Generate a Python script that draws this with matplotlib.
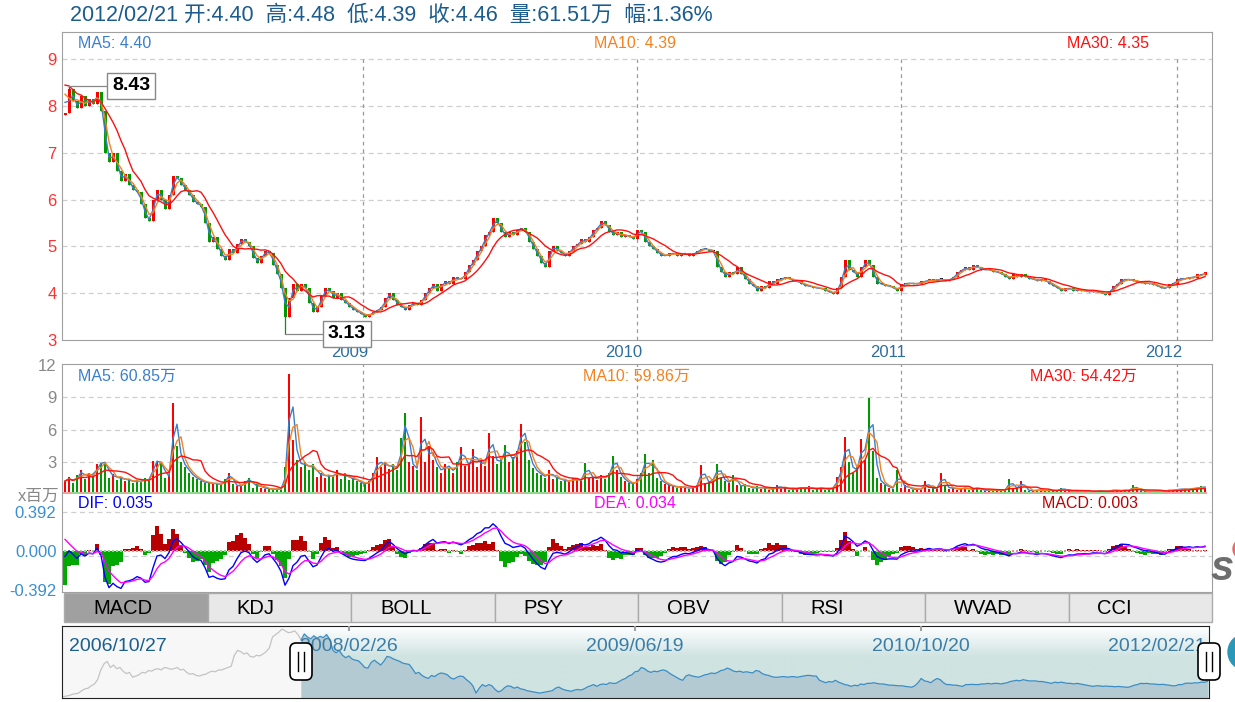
import numpy as np
import pandas as pd
import matplotlib
matplotlib.use('Agg')
import matplotlib.pyplot as plt
import matplotlib.transforms as mtrans
from matplotlib.patches import Rectangle, FancyBboxPatch, Circle

plt.rcParams['font.family'] = ['Liberation Sans', 'Noto Sans CJK SC', 'DejaVu Sans']

# ---- 数据（从图上读出的近似值，约每 3~4 个交易日取一个点） ----
# 2006/10 - 2007/12，只在下方缩略图里出现
early_close = [3.20, 3.25, 3.30, 3.40, 3.45, 3.50, 3.70, 3.85, 3.90, 4.10,
               4.25, 4.60, 5.40, 5.90, 6.10, 5.60, 5.80, 5.50, 5.60, 5.30,
               5.10, 5.20, 4.80, 4.90, 5.00, 5.20, 5.15, 5.35, 5.30, 5.45,
               5.50, 5.40, 5.60, 5.55, 5.45, 5.50, 5.60, 5.40, 5.45, 5.20,
               5.05, 5.10, 4.95, 4.90, 5.00, 5.05, 5.20, 5.30, 5.25, 5.40,
               5.40, 5.50, 5.60, 5.70, 6.60, 7.00, 6.90, 6.70, 6.80, 6.50,
               6.45, 6.60, 6.55, 6.70, 6.90, 7.20, 8.10, 8.30, 8.50, 8.75,
               8.60, 8.45, 8.50, 8.60, 8.30]

# 主图收盘价 2007/12 - 2012/02/21
close = [7.85, 8.35, 8.10, 7.95, 8.20, 8.00, 8.15, 8.05, 8.30, 7.90,
         7.00, 6.80, 7.00, 6.60, 6.40, 6.55, 6.30, 6.20, 6.15, 5.90,
         5.60, 5.55, 6.00, 6.20, 6.00, 5.80, 6.10, 6.50, 6.45, 6.30,
         6.20, 6.10, 5.95, 5.90, 5.85, 5.50, 5.10, 5.20, 4.95, 4.80,
         4.70, 4.95, 4.85, 5.05, 5.15, 5.10, 5.00, 4.75, 4.65, 4.80,
         4.90, 4.85, 4.60, 4.40, 4.10, 3.50, 3.90, 4.20, 4.05, 4.20,
         4.10, 3.80, 3.60, 3.70, 3.95, 4.10, 4.05, 3.90, 4.00, 3.85,
         3.80, 3.70, 3.65, 3.60, 3.55, 3.50, 3.55, 3.60, 3.65, 3.70,
         3.90, 4.00, 3.85, 3.75, 3.70, 3.65, 3.75, 3.80, 3.75, 3.85,
         4.00, 4.10, 4.20, 4.05, 4.20, 4.25, 4.20, 4.35, 4.30, 4.30,
         4.45, 4.60, 4.70, 4.90, 5.00, 5.25, 5.30, 5.60, 5.50, 5.30,
         5.20, 5.30, 5.25, 5.35, 5.40, 5.30, 5.10, 4.95, 4.80, 4.65,
         4.55, 4.90, 5.00, 4.90, 4.85, 4.80, 4.90, 5.00, 5.05, 5.15,
         5.10, 5.20, 5.35, 5.40, 5.55, 5.45, 5.30, 5.25, 5.30, 5.20,
         5.25, 5.20, 5.15, 5.35, 5.30, 5.10, 5.00, 4.95, 4.85, 4.80,
         4.80, 4.85, 4.85, 4.80, 4.85, 4.85, 4.80, 4.85, 4.90, 4.95,
         4.95, 4.90, 4.90, 4.55, 4.45, 4.35, 4.45, 4.40, 4.55, 4.40,
         4.30, 4.20, 4.15, 4.05, 4.15, 4.10, 4.25, 4.20, 4.30, 4.30,
         4.35, 4.30, 4.25, 4.25, 4.20, 4.15, 4.15, 4.12, 4.10, 4.10,
         4.05, 4.02, 3.98, 4.10, 4.35, 4.70, 4.50, 4.45, 4.35, 4.55,
         4.70, 4.60, 4.35, 4.20, 4.20, 4.15, 4.15, 4.10, 4.05, 4.20,
         4.20, 4.22, 4.20, 4.20, 4.25, 4.25, 4.30, 4.25, 4.30, 4.30,
         4.25, 4.30, 4.35, 4.45, 4.50, 4.55, 4.50, 4.60, 4.55, 4.50,
         4.50, 4.50, 4.45, 4.45, 4.40, 4.35, 4.30, 4.40, 4.35, 4.40,
         4.35, 4.30, 4.30, 4.25, 4.30, 4.25, 4.20, 4.15, 4.10, 4.05,
         4.10, 4.10, 4.05, 4.08, 4.05, 4.05, 4.02, 4.05, 4.02, 4.00,
         3.97, 4.05, 4.15, 4.20, 4.30, 4.28, 4.30, 4.25, 4.25, 4.22,
         4.20, 4.22, 4.18, 4.15, 4.10, 4.10, 4.20, 4.20, 4.30, 4.32,
         4.30, 4.35, 4.33, 4.40, 4.38, 4.46]

# 成交量，单位：百万股
volume = [1.2, 1.6, 1.0, 1.8, 2.2, 1.4, 2.0, 1.7, 2.8, 2.9,
          3.0, 1.5, 1.9, 1.3, 1.6, 1.2, 1.4, 1.0, 1.3, 1.1,
          1.5, 1.2, 3.1, 3.0, 2.9, 1.5, 1.8, 8.5, 4.5, 3.0,
          2.5, 2.0, 1.6, 1.4, 1.2, 1.0, 1.1, 0.9, 1.0, 0.8,
          1.4, 2.0, 0.9, 0.7, 0.8, 1.2, 1.5, 0.6, 0.9, 0.6,
          0.5, 0.5, 0.4, 0.5, 0.4, 2.5, 11.2, 5.0, 3.2, 2.5,
          3.0, 2.2, 2.8, 1.6, 2.0, 1.5, 1.8, 1.6, 2.2, 1.4,
          2.0, 1.3, 1.5, 1.2, 1.0, 0.9, 1.2, 2.0, 3.4, 2.5,
          3.0, 2.3, 2.8, 2.2, 5.2, 7.5, 3.0, 2.6, 2.2, 7.2,
          3.0, 4.5, 3.2, 2.5, 2.0, 2.8, 2.4, 2.0, 3.0, 4.4,
          2.6, 2.8, 4.2, 2.5, 3.2, 2.6, 5.7, 3.5, 2.8, 3.3,
          4.6, 3.0, 3.4, 4.0, 6.5, 4.8, 3.2, 2.4, 2.0, 1.8,
          1.5, 2.2, 1.4, 1.6, 1.2, 1.3, 1.1, 1.5, 1.3, 1.2,
          2.9, 1.5, 1.6, 1.3, 1.8, 1.4, 2.0, 3.5, 2.2, 1.6,
          1.2, 1.0, 0.9, 1.4, 2.0, 3.7, 2.0, 3.2, 1.5, 1.2,
          0.9, 0.8, 0.7, 0.6, 0.7, 0.6, 0.5, 0.7, 0.8, 2.7,
          1.0, 1.2, 1.4, 2.8, 1.5, 1.2, 1.0, 1.8, 0.8, 0.7,
          0.9, 0.6, 0.5, 0.7, 0.5, 0.6, 0.4, 0.5, 0.8, 0.5,
          0.6, 0.4, 0.5, 0.5, 0.6, 0.5, 0.7, 0.4, 0.5, 0.6,
          0.4, 0.5, 0.6, 1.6, 2.5, 5.3, 3.0, 2.0, 2.5, 5.1,
          3.2, 8.9, 4.0, 1.5, 1.0, 0.8, 0.6, 0.5, 2.2, 0.6,
          0.8, 0.5, 0.4, 0.5, 0.4, 1.2, 0.5, 0.6, 0.5, 2.0,
          0.7, 0.5, 0.6, 0.4, 0.5, 0.6, 0.4, 0.5, 0.6, 0.4,
          0.3, 0.4, 0.3, 0.4, 0.3, 0.4, 1.4, 0.5, 0.6, 1.2,
          0.4, 0.3, 0.3, 0.4, 0.3, 0.3, 0.4, 0.3, 0.3, 0.6,
          0.3, 0.3, 0.2, 0.3, 0.3, 0.2, 0.3, 0.2, 0.3, 0.3,
          0.2, 0.3, 0.4, 0.3, 0.3, 0.4, 0.3, 0.8, 0.4, 0.3,
          0.3, 0.2, 0.3, 0.3, 0.2, 0.3, 0.4, 0.3, 0.5, 0.4,
          0.5, 0.4, 0.6, 0.5, 0.7, 0.6]

first_open = 7.80
peak_idx, peak_high = 1, 8.43
trough_idx, trough_low = 55, 3.13

year_labels = ['2009', '2010', '2011', '2012']
year_idx = [74.5, 143, 209, 278]

header = '2012/02/21 开:4.40  高:4.48  低:4.39  收:4.46  量:61.51万  幅:1.36%'
price_ma_text = ['MA5: 4.40', 'MA10: 4.39', 'MA30: 4.35']
vol_ma_text = ['MA5: 60.85万', 'MA10: 59.86万', 'MA30: 54.42万']
macd_text = ['DIF: 0.035', 'DEA: 0.034', 'MACD: 0.003']
tab_names = ['MACD', 'KDJ', 'BOLL', 'PSY', 'OBV', 'RSI', 'WVAD', 'CCI']
nav_dates = ['2006/10/27', '2008/02/26', '2009/06/19', '2010/10/20', '2012/02/21']

# ---- 计算 ----
n = len(close)
idx = np.arange(n)
c = np.array(close)
o = np.r_[first_open, c[:-1]]
body_lo = np.minimum(o, c)
body_hi = np.maximum(o, c)
lo = body_lo.copy()
hi = body_hi.copy()
hi[peak_idx] = peak_high
lo[trough_idx] = trough_low
candle_col = np.where(c > o, '#ff0000', np.where(c < o, '#009a00', '#000000'))
vol_col = np.where(c >= o, '#ff0000', '#009a00')
vol_light = np.where(c >= o, '#f4a0a0', '#90d890')

full = pd.Series(early_close + close)
ne = len(early_close)
ma_win = [2, 3, 8]          # 5/10/30 日线按取样间隔换算
ma_col = ['#3a7fcf', '#f58220', '#ff1010']
price_ma = [full.rolling(w, min_periods=1).mean().values[ne:] for w in ma_win]
vs = pd.Series(volume)
vol_ma = [vs.rolling(w, min_periods=1).mean().values for w in ma_win]

ema_f = full.ewm(span=3.3, adjust=False).mean()
ema_s = full.ewm(span=7.2, adjust=False).mean()
dif = (ema_f - ema_s)
dea = dif.ewm(span=4.5, adjust=False).mean()
hist = (2 * (dif - dea)).values[ne:]
dif = dif.values[ne:]
dea = dea.values[ne:]

# ---- 画布 ----
W, H = 1235, 702
fig = plt.figure(figsize=(W / 100, H / 100), dpi=100)
fig.patch.set_facecolor('white')


def px_axes(x0, y0, x1, y1, **kw):
    return fig.add_axes([x0 / W, 1 - y1 / H, (x1 - x0) / W, (y1 - y0) / H], **kw)


XL = (-0.75, 286.75)
grid_kw = dict(color='#cfcfcf', ls=(0, (4, 3)), lw=0.9, zorder=0)
vgrid_kw = dict(color='#9a9a9a', ls=(0, (3, 3)), lw=0.9, zorder=0)
frame_col = '#a0a0a0'

# 主图
ax = px_axes(62, 32, 1212, 340)
ax.set_xlim(*XL)
ax.set_ylim(3, 9.577)
for v in range(4, 10):
    ax.axhline(v, **grid_kw)
ax.vlines(year_idx, 3, 9, **vgrid_kw)
ax.vlines(idx, lo, hi, colors=candle_col, lw=0.9, zorder=2)
ax.bar(idx, np.maximum(body_hi - body_lo, 0.015), bottom=body_lo, width=0.75,
       color=candle_col, linewidth=0, zorder=2)
for m, col in zip(price_ma, ma_col):
    ax.plot(idx, m, color=col, lw=1.0, zorder=3)
ax.set_xticks([])
ax.set_yticks(range(3, 10))
ax.tick_params(axis='y', length=0, pad=4, labelsize=12, labelcolor='#ff3030')
for s in ax.spines.values():
    s.set_color(frame_col)
xlab_tr = mtrans.blended_transform_factory(ax.transData, ax.transAxes)
for yl, yi in zip(year_labels, year_idx):
    ax.text(yi + 1.3, -0.04, yl, transform=xlab_tr, ha='right', va='center',
            fontsize=12, color='#2e6e9e', clip_on=False)

# 最高/最低标注
ax.plot([peak_idx, 10.5], [peak_high, peak_high], color='#888888', lw=0.9, zorder=4)
ax.text(16.5, peak_high, f'{peak_high:.2f}', ha='center', va='center', fontsize=14,
        fontweight='bold', color='black', zorder=5,
        bbox=dict(boxstyle='square,pad=0.24', fc='white', ec='#888888', lw=1))
ax.plot([trough_idx, 64.5], [trough_low, trough_low], color='#888888', lw=0.9,
        zorder=4, clip_on=False)
ax.text(70.5, trough_low, f'{trough_low:.2f}', ha='center', va='center', fontsize=14,
        fontweight='bold', color='black', zorder=5, clip_on=False,
        bbox=dict(boxstyle='square,pad=0.24', fc='white', ec='#888888', lw=1))

# 成交量
axv = px_axes(62, 364, 1212, 494)
axv.set_xlim(*XL)
axv.set_ylim(0, 12.1)
for v in (3, 6, 9):
    axv.axhline(v, **grid_kw)
for yi in year_idx:
    axv.axvline(yi, **vgrid_kw)
axv.bar(idx, volume, width=0.6, color=vol_col, linewidth=0, zorder=2)
axv.bar(idx, 0.16, width=0.9, color=vol_light, linewidth=0, zorder=4)
for m, col in zip(vol_ma, ma_col):
    axv.plot(idx, m, color=col, lw=1.0, zorder=3)
axv.set_xticks([])
axv.set_yticks([3, 6, 9, 12])
axv.tick_params(axis='y', length=0, pad=4, labelsize=12, labelcolor='#888888')
for s in axv.spines.values():
    s.set_color(frame_col)
axv.spines['bottom'].set_visible(False)

# MACD
axm = px_axes(62, 494, 1212, 592)
axm.set_xlim(*XL)
axm.set_ylim(-0.412, 0.573)
axm.axhline(0.392, **grid_kw)
axm.axhline(-0.05, **grid_kw)
axm.bar(idx, hist, width=0.95, color=np.where(hist >= 0, '#b80000', '#00a800'),
        linewidth=0, zorder=2)
axm.bar(idx, 0.012, bottom=-0.006, width=0.7,
        color=np.where(hist >= 0, '#f08c8c', '#8cd88c'), linewidth=0, zorder=2)
axm.plot(idx, dif, color='#0000ff', lw=1.0, zorder=3)
axm.plot(idx, dea, color='#ff00ff', lw=1.0, zorder=3)
axm.set_xticks([])
axm.set_yticks([-0.392, 0, 0.392])
axm.set_yticklabels(['-0.392', '0.000', '0.392'])
axm.tick_params(axis='y', length=0, pad=4, labelsize=12, labelcolor='#3a8fd0')
for s in axm.spines.values():
    s.set_color(frame_col)
axm.spines['top'].set_visible(False)

# 缩略导航图
axn = px_axes(62, 626, 1209, 698)
nav_x = np.arange(-ne, n)
nav_y = np.array(early_close + close)
NXL = (-75.2, 285.5)
NYL = (3.1, 9.0)
axn.set_xlim(*NXL)
axn.set_ylim(*NYL)
axn.axvspan(NXL[0], 0, color='#f7f7f7', zorder=0)
grad = np.ones((60, 1, 3))
top_c = np.array([1.0, 1.0, 1.0])
bot_c = np.array([0xcf, 0xe3, 0xe1]) / 255
for k in range(60):
    t = min(k / 25, 1.0)
    grad[k, 0] = top_c * (1 - t) + bot_c * t
axn.imshow(grad, extent=[0, NXL[1], NYL[0], NYL[1]], aspect='auto', zorder=0,
           origin='upper')
axn.plot(nav_x[:ne + 1], nav_y[:ne + 1], color='#c4c4c4', lw=0.9, zorder=2)
axn.fill_between(idx, c, NYL[0], color='#b3cad2', lw=0, zorder=1)
axn.plot(idx, c, color='#3a8cc4', lw=0.9, zorder=2)
axn.set_xticks([])
axn.set_yticks([])
for s in axn.spines.values():
    s.set_color('#222222')
nav_ticks = [15, 105, 195]
axn.vlines(nav_ticks, NYL[1] - 0.45, NYL[1], color='#a0a0a0', lw=1.5, zorder=3)
nav_tr = mtrans.blended_transform_factory(axn.transData, axn.transAxes)
axn.text(-73, 0.71, nav_dates[0], transform=nav_tr, ha='left', va='center',
         fontsize=14, color='#1a5f8f', zorder=4)
for d, t in zip(nav_dates[1:4], nav_ticks):
    axn.text(t, 0.71, d, transform=nav_tr, ha='center', va='center',
             fontsize=14, color='#3a7ea8', zorder=4)
axn.text(284.5, 0.71, nav_dates[4], transform=nav_tr, ha='right', va='center',
         fontsize=14, color='#3a7ea8', zorder=4)

# ---- 像素坐标覆盖层：标题、图例文字、选项卡、滑块 ----
ov = fig.add_axes([0, 0, 1, 1], zorder=10)
ov.set_xlim(0, W)
ov.set_ylim(H, 0)
ov.axis('off')
ov.patch.set_alpha(0)

ov.text(70, 15, header, fontsize=15.5, color='#1b5c8c', va='center', ha='left')

for txt, col, x in zip(price_ma_text, ma_col, [78, 594, 1067]):
    ov.text(x, 43, txt, fontsize=11.5, color=col, va='center', ha='left')
for txt, col, x in zip(vol_ma_text, ma_col, [78, 583, 1030]):
    ov.text(x, 376, txt, fontsize=11.5, color=col, va='center', ha='left')
for txt, col, x in zip(macd_text, ['#0000ff', '#ff00ff', '#c00000'], [78, 594, 1042]):
    ov.text(x, 504, txt, fontsize=11.5, color=col, va='center', ha='left')
ov.text(59, 496, 'x百万', fontsize=12, color='#888888', va='center', ha='right')

# 选项卡
tab_w = 143.5
for k, name in enumerate(tab_names):
    x0 = 64 + k * tab_w
    fc = '#a0a0a0' if k == 0 else '#e8e8e8'
    ov.add_patch(Rectangle((x0, 593), tab_w, 29, fc=fc, ec='#ababab', lw=1))
    ov.text(x0 + 29, 608, name, fontsize=14.5, color='black', va='center', ha='left')

# 滑块
for cx in (301, 1209):
    ov.add_patch(FancyBboxPatch((cx - 11, 643), 22, 37,
                                boxstyle='round,pad=0,rounding_size=6',
                                fc='white', ec='black', lw=1.2))
    ov.plot([cx - 3, cx - 3], [652, 671], color='black', lw=1)
    ov.plot([cx + 3, cx + 3], [652, 671], color='black', lw=1)

# 右侧被截断的站标
ov.add_patch(Circle((1243, 549), 10, color='#e86a6a', clip_on=False))
ov.text(1211, 569, 's', fontsize=30, fontweight='bold', fontstyle='italic',
        color='#6e6e6e', va='center', ha='left')
ov.add_patch(Circle((1246, 652), 18, color='#2a98b8', clip_on=False))

fig.savefig('out.png', dpi=100)
